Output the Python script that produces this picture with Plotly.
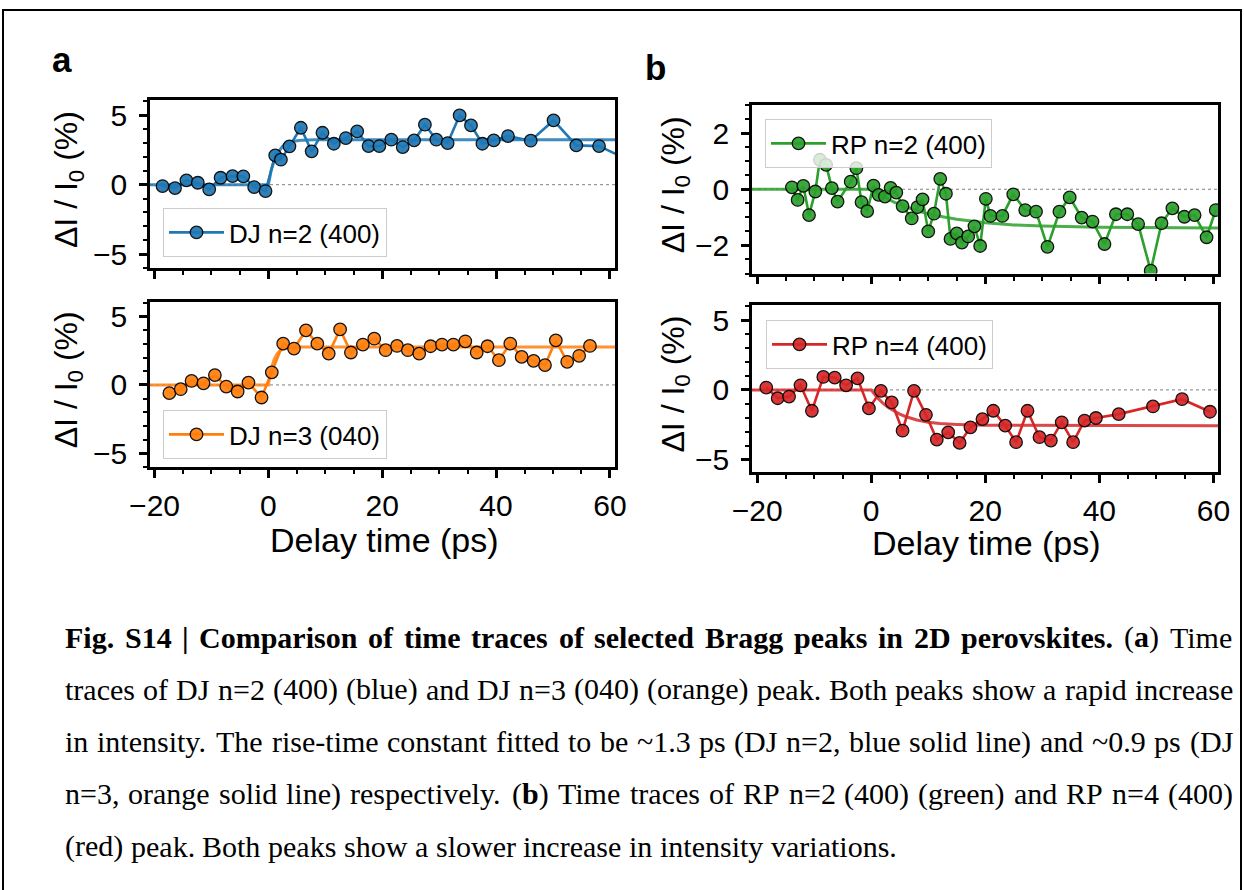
import re
import plotly.graph_objects as go

W, H = 1244, 890

# ---------------- data ----------------
dj2_t = [-18.6, -16.4, -14.4, -12.4, -10.4, -8.4, -6.3, -4.4, -2.5, -0.5, 1.2, 2.2, 3.7, 5.7,
         7.6, 9.5, 11.5, 13.6, 15.6, 17.6, 19.5, 21.6, 23.6, 25.6, 27.5, 29.5, 31.5, 33.6,
         35.6, 37.6, 39.6, 42.1, 46.1, 50.1, 54.1, 58.1, 62.1]
dj2_v = [-0.1, -0.24, 0.31, 0.14, -0.34, 0.5, 0.62, 0.6, -0.17, -0.46, 2.11, 1.8, 2.76, 4.1,
         2.4, 3.74, 2.95, 3.36, 3.84, 2.78, 2.78, 3.24, 2.71, 3.19, 4.32, 3.24, 3.0, 4.99,
         4.27, 2.95, 3.19, 3.5, 3.17, 4.63, 2.83, 2.78, 2.0]
dj2_fit_t = [-21, 0, 0.5, 1, 1.5, 2, 2.5, 3, 3.5, 4, 5, 6, 8, 62]
dj2_fit_v = [0, 0, 1.04, 1.74, 2.22, 2.54, 2.76, 2.92, 3.02, 3.09, 3.17, 3.21, 3.23, 3.24]

dj3_t = [-17.4, -15.4, -13.5, -11.4, -9.4, -7.4, -5.4, -3.5, -1.2, 0.6, 2.6, 4.5, 6.6, 8.6,
         10.6, 12.6, 14.5, 16.6, 18.6, 20.6, 22.6, 24.5, 26.5, 28.5, 30.5, 32.5, 34.6, 36.6,
         38.5, 40.5, 42.5, 44.5, 46.6, 48.6, 50.5, 52.5, 54.6, 56.5]
dj3_v = [-0.6, -0.31, 0.29, 0.12, 0.72, -0.12, -0.48, 0.17, -0.92, 0.92, 3.02, 2.66, 3.99, 3.02,
         2.29, 4.06, 2.37, 2.95, 3.38, 2.54, 2.85, 2.54, 2.29, 2.83, 2.95, 2.95, 3.19, 2.37,
         2.83, 1.81, 3.02, 2.05, 1.76, 1.45, 3.26, 1.69, 2.13, 2.85]
dj3_fit_t = [-21, 0, 0.5, 1, 1.5, 2, 2.5, 3, 4, 5, 62]
dj3_fit_v = [0, 0, 1.18, 1.86, 2.26, 2.48, 2.61, 2.69, 2.75, 2.77, 2.78]

rp2_t = [-13.9, -12.9, -11.9, -10.9, -9.8, -9.0, -7.9, -6.9, -5.9, -3.6, -2.6, -1.7, -0.7,
         0.4, 1.3, 2.4, 3.4, 4.4, 5.5, 7.1, 8.1, 9.0, 10.0, 11.0, 12.1, 13.1, 13.9, 15.0,
         15.9, 17.0, 18.1, 19.1, 20.1, 20.9, 23.0, 24.9, 27.0, 28.9, 30.9, 33.0, 34.8, 36.9,
         38.8, 40.9, 42.9, 44.9, 46.8, 49.0, 50.9, 52.8, 54.9, 56.7, 58.8, 60.4]
rp2_v = [0.07, -0.38, 0.12, -0.92, -0.08, 1.05, 0.87, 0.04, -0.44, 0.27, 0.75, -0.46, -0.78,
         0.13, -0.2, -0.26, 0.05, -0.12, -0.6, -1.04, -0.64, -0.36, -1.5, -0.87, 0.37, -0.16,
         -1.77, -1.57, -1.9, -1.68, -1.32, -2.02, -0.34, -0.95, -0.95, -0.18, -0.74, -0.8,
         -2.05, -0.8, -0.29, -1.01, -1.15, -1.95, -0.89, -0.89, -1.24, -2.9, -1.21, -0.68,
         -0.98, -0.92, -1.71, -0.74]
rp2_fit_t = [-21, 0, 2, 4, 6, 8, 10, 12, 15, 20, 25, 30, 40, 50, 62]
rp2_fit_v = [0, 0, -0.25, -0.455, -0.62, -0.76, -0.87, -0.965, -1.07, -1.19, -1.27, -1.31,
             -1.355, -1.37, -1.38]

rp4_t = [-18.4, -16.4, -14.4, -12.4, -10.4, -8.4, -6.4, -4.4, -2.4, -0.4, 1.7, 3.6, 5.5, 7.5,
         9.6, 11.5, 13.5, 15.5, 17.4, 19.5, 21.4, 23.5, 25.4, 27.4, 29.5, 31.5, 33.4, 35.4,
         37.4, 39.4, 43.4, 49.4, 54.5, 59.4]
rp4_v = [0.17, -0.6, -0.48, 0.33, -1.5, 0.93, 0.88, 0.33, 0.83, -1.33, -0.07, -0.9, -2.93,
         -0.07, -1.79, -3.57, -3.05, -3.81, -2.69, -2.1, -1.5, -2.57, -3.76, -1.5, -3.4, -3.64,
         -2.33, -3.76, -2.21, -2.02, -1.74, -1.19, -0.67, -1.57]
rp4_fit_t = [-21, 0, 1, 2, 3, 4, 5, 6, 8, 10, 12, 15, 20, 62]
rp4_fit_v = [0, 0, -0.52, -0.93, -1.26, -1.53, -1.74, -1.91, -2.16, -2.32, -2.42, -2.48,
             -2.54, -2.57]

labels = ["DJ n=2 (400)", "DJ n=3 (040)", "RP n=2 (400)", "RP n=4 (400)"]
colors = ["#1f77b4", "#ff7f0e", "#2ca02c", "#d62728"]

caption_lines = [
    "<b>Fig. S14 | Comparison of time traces of selected Bragg peaks in 2D perovskites.</b> (<b>a</b>) Time",
    "traces of DJ n=2 (400) (blue) and DJ n=3 (040) (orange) peak. Both peaks show a rapid increase",
    "in intensity. The rise-time constant fitted to be ~1.3 ps (DJ n=2, blue solid line) and ~0.9 ps (DJ",
    "n=3, orange solid line) respectively. (<b>b</b>) Time traces of RP n=2 (400) (green) and RP n=4 (400)",
    "(red) peak. Both peaks show a slower increase in intensity variations.",
]

# ---------------- helpers ----------------
def px_x(v):
    return v / W

def px_y(v):
    return 1 - v / H

SANS = "Liberation Sans, Arial, sans-serif"
SERIF = "Liberation Serif, Times New Roman, serif"

# Times (Liberation Serif metric-compatible) advance widths, 1/1000 em
_TR = dict(zip(" ()|,-.=~:;/",
               [250, 333, 333, 200, 250, 333, 250, 564, 541, 278, 278, 278]))
_TR.update({c: 500 for c in "0123456789"})
_TR.update(dict(zip("abcdefghijklmnopqrstuvwxyz",
                    [444, 500, 444, 500, 444, 333, 500, 500, 278, 278, 500, 278, 778, 500,
                     500, 500, 500, 333, 389, 278, 500, 500, 722, 500, 500, 444])))
_TR.update(dict(zip("ABCDEFGHIJKLMNOPQRSTUVWXYZ",
                    [722, 667, 667, 722, 611, 556, 722, 722, 333, 389, 722, 611, 889, 722,
                     722, 556, 722, 667, 556, 611, 722, 722, 944, 722, 722, 611])))
_TB = dict(zip(" ()|,-.=~:;/",
               [250, 333, 333, 220, 250, 333, 250, 570, 520, 333, 333, 278]))
_TB.update({c: 500 for c in "0123456789"})
_TB.update(dict(zip("abcdefghijklmnopqrstuvwxyz",
                    [500, 556, 444, 556, 444, 333, 500, 556, 278, 333, 556, 278, 833, 556,
                     500, 556, 556, 444, 389, 333, 556, 500, 722, 500, 500, 444])))
_TB.update(dict(zip("ABCDEFGHIJKLMNOPQRSTUVWXYZ",
                    [722, 667, 722, 722, 667, 611, 778, 778, 389, 500, 778, 667, 944, 722,
                     778, 611, 778, 722, 556, 667, 722, 722, 1000, 722, 722, 667])))

def caption_words(line):
    """Split a line with <b> markup into words: list of (markup_text, width_em)."""
    parts = re.split(r"(<b>|</b>)", line)
    bold = False
    chars = []
    for p in parts:
        if p == "<b>":
            bold = True
        elif p == "</b>":
            bold = False
        else:
            chars.extend((ch, bold) for ch in p)
    words, cur = [], []
    for ch, b in chars + [(" ", False)]:
        if ch == " ":
            if cur:
                words.append(cur)
            cur = []
        else:
            cur.append((ch, b))
    out = []
    for w in words:
        txt, wid, state = "", 0.0, False
        for ch, b in w:
            if b != state:
                txt += "<b>" if b else "</b>"
                state = b
            txt += ch
            wid += (_TB if b else _TR).get(ch, 500) / 1000.0
        if state:
            txt += "</b>"
        out.append((txt, wid))
    return out

panels = [
    dict(t=dj2_t, v=dj2_v, ft=dj2_fit_t, fv=dj2_fit_v, xr=(150, 615), yr=(100, 268),
         xrange=[-20.8, 60.9], yrange=[-6.0, 6.1], dt=5, mdt=1, lg=(163, 208), showx=False),
    dict(t=dj3_t, v=dj3_v, ft=dj3_fit_t, fv=dj3_fit_v, xr=(150, 615), yr=(301.5, 467),
         xrange=[-20.8, 60.9], yrange=[-6.0, 6.1], dt=5, mdt=1, lg=(163, 410), showx=True),
    dict(t=rp2_t, v=rp2_v, ft=rp2_fit_t, fv=rp2_fit_v, xr=(752, 1218), yr=(105, 273.5),
         xrange=[-20.9, 60.8], yrange=[-3.0, 3.0], dt=2, mdt=0.5, lg=(765, 119), showx=False),
    dict(t=rp4_t, v=rp4_v, ft=rp4_fit_t, fv=rp4_fit_v, xr=(752, 1218), yr=(305, 472),
         xrange=[-20.9, 60.8], yrange=[-5.9, 6.1], dt=5, mdt=1, lg=(766, 320), showx=True),
]

fig = go.Figure()
layout = dict(
    width=W, height=H, autosize=False, margin=dict(l=0, r=0, t=0, b=0, pad=0),
    paper_bgcolor="white", plot_bgcolor="white", showlegend=True,
    font=dict(family=SANS, color="black"),
)
shapes = []
annotations = []

for i, p in enumerate(panels):
    n = i + 1
    xa = "x" if n == 1 else f"x{n}"
    ya = "y" if n == 1 else f"y{n}"
    lg = "legend" if n == 1 else f"legend{n}"
    c = colors[i]
    fig.add_trace(go.Scatter(x=p["ft"], y=p["fv"], mode="lines", xaxis=xa, yaxis=ya,
                             line=dict(color=c, width=3), opacity=0.85,
                             showlegend=False, hoverinfo="skip"))
    fig.add_trace(go.Scatter(x=p["t"], y=p["v"], mode="lines+markers", xaxis=xa, yaxis=ya,
                             name=labels[i], legend=lg,
                             line=dict(color=c, width=2.6),
                             marker=dict(size=12.5, color=c, opacity=0.92,
                                         line=dict(color="black", width=1.3))))
    axis_common = dict(
        showline=True, linewidth=2.5, linecolor="black", mirror=True,
        ticks="outside", ticklen=8, tickwidth=2.5, tickcolor="black",
        showgrid=False, zeroline=False, automargin=False,
        tickfont=dict(family=SANS, size=30, color="black"),
    )
    layout[("xaxis" if n == 1 else f"xaxis{n}")] = dict(
        axis_common, domain=[px_x(p["xr"][0]), px_x(p["xr"][1])], anchor=ya,
        range=p["xrange"], tick0=0, dtick=20, showticklabels=p["showx"],
        minor=dict(ticks="outside", ticklen=4.5, tickwidth=1.8, tickcolor="black",
                   dtick=5, tick0=0, showgrid=False),
        ticklabelstandoff=2,
    )
    layout[("yaxis" if n == 1 else f"yaxis{n}")] = dict(
        axis_common, domain=[px_y(p["yr"][1]), px_y(p["yr"][0])], anchor=xa,
        range=p["yrange"], tick0=0, dtick=p["dt"],
        minor=dict(ticks="outside", ticklen=4.5, tickwidth=1.8, tickcolor="black",
                   dtick=p["mdt"], tick0=0, showgrid=False),
        ticklabelstandoff=6,
    )
    layout[lg] = dict(
        x=px_x(p["lg"][0]), y=px_y(p["lg"][1]), xanchor="left", yanchor="top",
        bgcolor="rgba(255,255,255,0.8)", bordercolor="#cccccc", borderwidth=1,
        font=dict(family=SANS, size=26, color="black"), itemwidth=55,
    )
    shapes.append(dict(type="line", xref=f"{xa} domain", yref=ya, x0=0, x1=1, y0=0, y1=0,
                       line=dict(color="#808080", width=1, dash="dot"), layer="below"))
    cx = 68 if p["xr"][0] < 600 else 675
    cy = (p["yr"][0] + p["yr"][1]) / 2 - 4
    annotations.append(dict(text="ΔI / I<sub>0</sub> (%)", textangle=-90, xref="paper",
                            yref="paper", x=px_x(cx), y=px_y(cy), xanchor="center",
                            yanchor="middle", showarrow=False,
                            font=dict(family=SANS, size=32, color="black")))

annotations.append(dict(text="Delay time (ps)", xref="paper", yref="paper", x=px_x(384),
                        y=px_y(540), showarrow=False, xanchor="center", yanchor="middle",
                        font=dict(family=SANS, size=34, color="black")))
annotations.append(dict(text="Delay time (ps)", xref="paper", yref="paper", x=px_x(986),
                        y=px_y(543), showarrow=False, xanchor="center", yanchor="middle",
                        font=dict(family=SANS, size=34, color="black")))
annotations.append(dict(text="<b>a</b>", xref="paper", yref="paper", x=px_x(62), y=px_y(60),
                        showarrow=False, xanchor="center", yanchor="middle",
                        font=dict(family=SANS, size=35, color="black")))
annotations.append(dict(text="<b>b</b>", xref="paper", yref="paper", x=px_x(655), y=px_y(68),
                        showarrow=False, xanchor="center", yanchor="middle",
                        font=dict(family=SANS, size=35, color="black")))

# caption: justified lines (last line left aligned)
CAP_FS = 30
CAP_L, CAP_R = 64, 1232
CAP_Y0, CAP_DY = 637, 52.3
for k, line in enumerate(caption_lines):
    words = caption_words(line)
    widths = [w * CAP_FS for _, w in words]
    if k < len(caption_lines) - 1 and len(words) > 1:
        gap = (CAP_R - CAP_L - sum(widths)) / (len(words) - 1)
    else:
        gap = 0.25 * CAP_FS
    xpos = CAP_L
    for (txt, _), wpx in zip(words, widths):
        annotations.append(dict(text=txt, xref="paper", yref="paper", x=px_x(xpos),
                                y=px_y(CAP_Y0 + CAP_DY * k), showarrow=False, xanchor="left",
                                yanchor="middle", align="left", borderpad=0,
                                font=dict(family=SERIF, size=CAP_FS, color="black")))
        xpos += wpx + gap

shapes.append(dict(type="rect", xref="paper", yref="paper", x0=px_x(3), x1=px_x(1241),
                   y0=-0.2, y1=px_y(10), line=dict(color="black", width=2),
                   fillcolor="rgba(0,0,0,0)", layer="above"))

layout["shapes"] = shapes
layout["annotations"] = annotations
fig.update_layout(**layout)
fig.write_html("out.html")
